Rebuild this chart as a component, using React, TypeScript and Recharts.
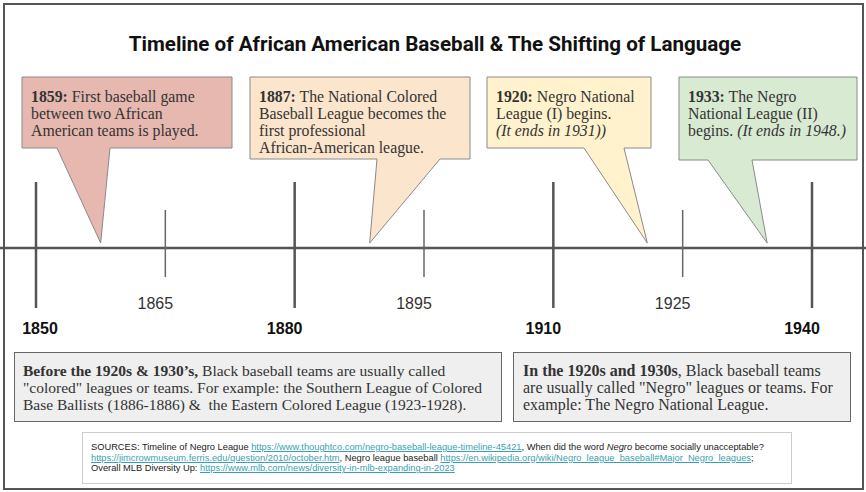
import { ComposedChart, ReferenceLine, Scatter, XAxis, YAxis } from "recharts";

// timeline ticks
const majorYears = [1850, 1880, 1910, 1940];
const minorYears = [1865, 1895, 1925];

// events and where each callout's pointer lands on the timeline
const eventYears = [1859, 1887, 1920, 1933];
const pointerYears = [1857.5, 1888.7, 1920.9, 1934.8];

type Seg = { t: string; b?: boolean; i?: boolean };

const eventLines: Seg[][][] = [
  [[{ t: "1859:", b: true }, { t: " First baseball game" }], [{ t: "between two African" }], [{ t: "American teams is played." }]],
  [
    [{ t: "1887:", b: true }, { t: " The National Colored" }],
    [{ t: "Baseball League becomes the" }],
    [{ t: "first professional" }],
    [{ t: "African-American league." }],
  ],
  [[{ t: "1920:", b: true }, { t: " Negro National" }], [{ t: "League (I) begins." }], [{ t: "(It ends in 1931))", i: true }]],
  [[{ t: "1933:", b: true }, { t: " The Negro" }], [{ t: "National League (II)" }], [{ t: "begins. " }, { t: "(It ends in 1948.)", i: true }]],
];

const beforeLines: Seg[][] = [
  [{ t: "Before the 1920s & 1930’s,", b: true }, { t: " Black baseball teams are usually called" }],
  [{ t: '"colored" leagues or teams. For example: the Southern League of Colored' }],
  [{ t: "Base Ballists (1886-1886) &  the Eastern Colored League (1923-1928)." }],
];

const duringLines: Seg[][] = [
  [{ t: "In the 1920s and 1930s", b: true }, { t: ", Black baseball teams" }],
  [{ t: 'are usually called "Negro" leagues or teams. For' }],
  [{ t: "example: The Negro National League." }],
];

const title = "Timeline of African American Baseball & The Shifting of Language";

// callout boxes (layout only)
const boxes = [
  { x: 22, y: 77, w: 210, h: 71, b0: 57, b1: 110, fill: "#e6b8af" },
  { x: 250, y: 77, w: 220, h: 82, b0: 377, b1: 440, fill: "#fce5cd" },
  { x: 487, y: 77, w: 164, h: 71, b0: 584, b1: 624, fill: "#fff2cc" },
  { x: 679, y: 77, w: 178, h: 83, b0: 708, b1: 752, fill: "#d9ead3" },
];

const AXIS_Y = 248;
const TIP_Y = 243;
const serif = "'Liberation Serif', 'DejaVu Serif', serif";
const sans = "'Liberation Sans', Arial, sans-serif";

const eventData = eventYears.map((year, i) => ({ x: pointerYears[i], y: TIP_Y, year, i }));
const majorLabelData = majorYears.map((year, i) => ({ x: year, y: 334, i }));
const minorLabelData = minorYears.map((year) => ({ x: year, y: 309 }));

function Callout(props: any) {
  const { cx, cy, payload } = props;
  const b = boxes[payload.i];
  const r = b.x + b.w;
  const bot = b.y + b.h;
  const d = `M${b.x},${b.y} H${r} V${bot} H${b.b1} L${cx},${cy} L${b.b0},${bot} H${b.x} Z`;
  return (
    <g>
      <path d={d} fill={b.fill} stroke="#8a8a8a" strokeWidth={1} strokeLinejoin="miter" />
      <text fontFamily={serif} fontSize={15.8} fill="#333" style={{ whiteSpace: "pre" }}>
        {eventLines[payload.i].map((segs, li) => (
          <tspan key={li} x={b.x + 9} y={b.y + 25 + li * 17}>
            {segs.map((s, k) => (
              <tspan key={k} fontWeight={s.b ? 700 : 400} fontStyle={s.i ? "italic" : "normal"}>
                {s.t}
              </tspan>
            ))}
          </tspan>
        ))}
      </text>
    </g>
  );
}

function Lines({ lines }: { lines: Seg[][] }) {
  return (
    <>
      {lines.map((segs, li) => (
        <div key={li} style={{ whiteSpace: "pre" }}>
          {segs.map((s, k) => (
            <span key={k} style={{ fontWeight: s.b ? 700 : 400, fontStyle: s.i ? "italic" : "normal" }}>
              {s.t}
            </span>
          ))}
        </div>
      ))}
    </>
  );
}

const link = { color: "#3a9fb4", textDecoration: "underline" };

export default function App() {
  return (
    <div style={{ position: "absolute", left: 0, top: 0, width: 866, height: 492, background: "#fff" }}>
      <ComposedChart width={866} height={492} margin={{ top: 0, right: 54, bottom: 0, left: 36 }}>
        <XAxis dataKey="x" type="number" domain={[1850, 1940]} hide />
        <YAxis dataKey="y" type="number" domain={[0, 492]} reversed hide />
        <ReferenceLine
          segment={[
            { x: 1844, y: AXIS_Y },
            { x: 1947, y: AXIS_Y },
          ]}
          ifOverflow="visible"
          stroke="#555"
          strokeWidth={2.5}
        />
        {majorYears.map((yr) => (
          <ReferenceLine
            key={yr}
            segment={[
              { x: yr, y: 182 },
              { x: yr, y: 308 },
            ]}
            ifOverflow="visible"
            stroke="#555"
            strokeWidth={2.5}
          />
        ))}
        {minorYears.map((yr) => (
          <ReferenceLine
            key={yr}
            segment={[
              { x: yr, y: 210 },
              { x: yr, y: 277 },
            ]}
            ifOverflow="visible"
            stroke="#666"
            strokeWidth={1.5}
          />
        ))}
        <Scatter
          data={majorLabelData}
          isAnimationActive={false}
          shape={(p: any) => (
            <text
              x={p.cx + (p.payload.i === 0 ? 4 : -10)}
              y={p.cy}
              textAnchor="middle"
              fontFamily={sans}
              fontWeight={700}
              fontSize={16}
              fill="#111"
            >
              {p.payload.x}
            </text>
          )}
        />
        <Scatter
          data={minorLabelData}
          isAnimationActive={false}
          shape={(p: any) => (
            <text x={p.cx - 10} y={p.cy} textAnchor="middle" fontFamily={sans} fontSize={16} fill="#333">
              {p.payload.x}
            </text>
          )}
        />
        <Scatter data={eventData} isAnimationActive={false} shape={(p: any) => <Callout {...p} />} />
      </ComposedChart>

      <div
        style={{
          position: "absolute",
          left: 0,
          top: 32,
          width: 870,
          textAlign: "center",
          fontFamily: "Roboto, sans-serif",
          fontWeight: 700,
          fontSize: 20.6,
          color: "#111",
        }}
      >
        {title}
      </div>

      <div
        style={{
          position: "absolute",
          left: 14,
          top: 352,
          width: 488,
          height: 70,
          boxSizing: "border-box",
          background: "#efefef",
          border: "1px solid #666",
          padding: "9px 8px 0 8px",
          fontFamily: serif,
          fontSize: 15.5,
          lineHeight: "17px",
          color: "#333",
        }}
      >
        <Lines lines={beforeLines} />
      </div>

      <div
        style={{
          position: "absolute",
          left: 513,
          top: 352,
          width: 338,
          height: 70,
          boxSizing: "border-box",
          background: "#efefef",
          border: "1px solid #666",
          padding: "9px 8px 0 9px",
          fontFamily: serif,
          fontSize: 16,
          lineHeight: "17px",
          color: "#333",
        }}
      >
        <Lines lines={duringLines} />
      </div>

      <div
        style={{
          position: "absolute",
          left: 82,
          top: 432,
          width: 710,
          height: 52,
          boxSizing: "border-box",
          background: "#fff",
          border: "1px solid #ccc",
          padding: "9px 8px 0 8px",
          fontFamily: sans,
          fontSize: 9.3,
          lineHeight: "10.5px",
          color: "#222",
          whiteSpace: "nowrap",
        }}
      >
        <div>
          SOURCES: Timeline of Negro League{" "}
          <span style={link}>https://www.thoughtco.com/negro-baseball-league-timeline-45421</span>, When did the word{" "}
          <i>Negro</i> become socially unacceptable?
        </div>
        <div>
          <span style={link}>https://jimcrowmuseum.ferris.edu/question/2010/october.htm</span>, Negro league baseball{" "}
          <span style={link}>https://en.wikipedia.org/wiki/Negro_league_baseball#Major_Negro_leagues</span>;
        </div>
        <div>
          Overall MLB Diversity Up: <span style={link}>https://www.mlb.com/news/diversity-in-mlb-expanding-in-2023</span>
        </div>
      </div>

      <div
        style={{
          position: "absolute",
          left: 3,
          top: 3,
          width: 861,
          height: 487,
          boxSizing: "border-box",
          border: "2.5px solid #555",
          pointerEvents: "none",
        }}
      />
    </div>
  );
}
